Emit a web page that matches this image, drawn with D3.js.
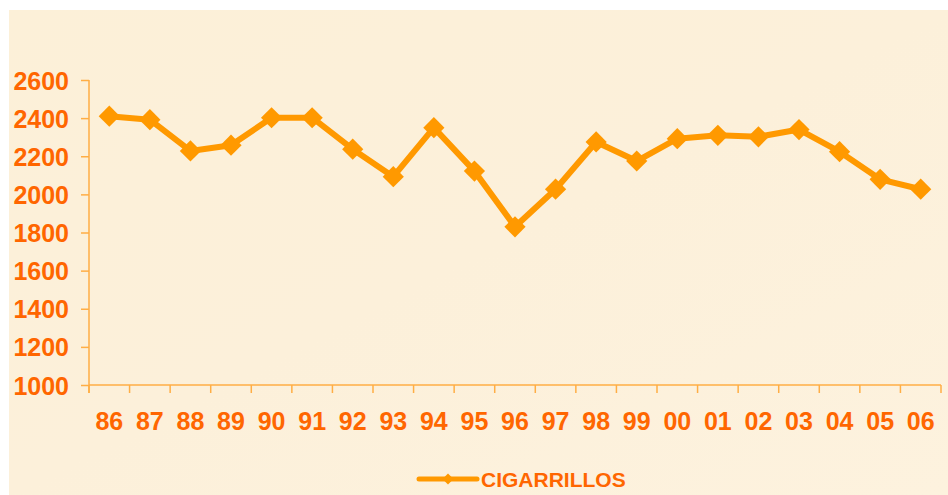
<!DOCTYPE html>
<html>
<head>
<meta charset="utf-8">
<script src="https://cdn.jsdelivr.net/npm/d3@7"></script>
<style>
  html, body { margin: 0; padding: 0; background: #ffffff; }
  svg { display: block; }
</style>
</head>
<body>
<svg id="chart" width="948" height="495"></svg>
<script>
const years = ["86","87","88","89","90","91","92","93","94","95","96","97","98","99","00","01","02","03","04","05","06"];
const cigarrillos = [2410,2392,2228,2258,2402,2402,2237,2093,2350,2122,1830,2027,2275,2175,2292,2310,2302,2340,2224,2079,2027];
const yTicks = [1000,1200,1400,1600,1800,2000,2200,2400,2600];
const seriesName = "CIGARRILLOS";

const svg = d3.select("#chart");
const W = 948, H = 495;
const plot = { left: 89, right: 941, top: 80, bottom: 385 };

// background
const defs = svg.append("defs");
const grad = defs.append("linearGradient").attr("id","bg").attr("x1","0").attr("y1","0").attr("x2","1").attr("y2","1");
grad.append("stop").attr("offset","0%").attr("stop-color","#fcf0d8");
grad.append("stop").attr("offset","50%").attr("stop-color","#fcf0da");
grad.append("stop").attr("offset","100%").attr("stop-color","#fdf2de");
svg.append("rect").attr("x",9).attr("y",10).attr("width",W-9).attr("height",H-10).attr("fill","url(#bg)");

const x = d3.scaleBand().domain(years).range([plot.left, plot.right]).padding(0);
const y = d3.scaleLinear().domain([1000,2600]).range([plot.bottom, plot.top]);

const axisColor = "#ffae45";
const textColor = "#ff6600";
const font = "'Liberation Sans', Arial, sans-serif";

// Y axis
const yAxis = svg.append("g").attr("transform",`translate(${plot.left},0)`)
  .call(d3.axisLeft(y).tickValues(yTicks).tickSize(8).tickFormat(d3.format("d")));
yAxis.select(".domain").attr("d", `M0,${plot.top}V${plot.bottom + 8}`).attr("stroke", axisColor).attr("stroke-width",1.5);
yAxis.selectAll(".tick line").attr("stroke", axisColor).attr("stroke-width",1.5);
yAxis.selectAll(".tick text")
  .attr("x",-20).attr("dy","0.36em")
  .attr("fill", textColor)
  .style("font-family", font)
  .style("font-weight","bold").style("font-size","25px");

// X axis
const xAxis = svg.append("g").attr("transform",`translate(0,${plot.bottom})`)
  .call(d3.axisBottom(x).tickSize(0));
xAxis.select(".domain").attr("d", `M${plot.left},0H${plot.right}`).attr("stroke", axisColor).attr("stroke-width",1.5);
xAxis.selectAll(".tick text")
  .attr("y",45).attr("dy",0)
  .attr("fill", textColor)
  .style("font-family", font)
  .style("font-weight","bold").style("font-size","25px");
// boundary ticks between categories
const bounds = years.map(d => x(d)).concat([x(years[years.length-1]) + x.bandwidth()]);
svg.append("g").selectAll("line").data(bounds).join("line")
  .attr("x1", d => d).attr("x2", d => d)
  .attr("y1", plot.bottom).attr("y2", plot.bottom + 8)
  .attr("stroke", axisColor).attr("stroke-width",1.5);

// line
const lineColor = "#ff9900";
const cx = d => x(d) + x.bandwidth()/2;
const data = years.map((yr,i) => ({yr, v: cigarrillos[i]}));
svg.append("path").datum(data)
  .attr("fill","none").attr("stroke", lineColor).attr("stroke-width",6).attr("stroke-linejoin","round")
  .attr("d", d3.line().x(d => cx(d.yr)).y(d => y(d.v)));

svg.append("g").selectAll("path").data(data).join("path")
  .attr("d", d3.symbol().type(d3.symbolSquare).size(225))
  .attr("transform", d => `translate(${cx(d.yr)},${y(d.v)}) rotate(45)`)
  .attr("fill", lineColor);

// legend
const lg = svg.append("g");
lg.append("line").attr("x1",419).attr("x2",477).attr("y1",479).attr("y2",479)
  .attr("stroke", lineColor).attr("stroke-width",5).attr("stroke-linecap","round");
lg.append("path").attr("d", d3.symbol().type(d3.symbolSquare).size(60)())
  .attr("transform","translate(448,479) rotate(45)").attr("fill", lineColor);
lg.append("text").attr("x",481).attr("y",487).text(seriesName)
  .attr("fill", textColor)
  .style("font-family", font)
  .style("font-weight","bold").style("font-size","21px");
</script>
</body>
</html>
